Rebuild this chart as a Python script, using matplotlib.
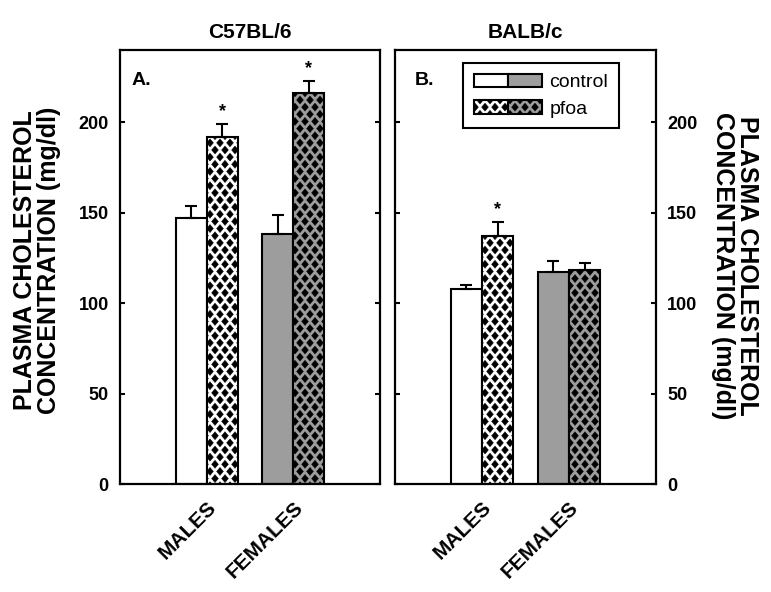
import numpy as np
import matplotlib
matplotlib.use("Agg")
import matplotlib.pyplot as plt
import matplotlib.hatch as mhatch
from matplotlib.path import Path
from matplotlib.patches import Rectangle
from matplotlib.legend_handler import HandlerTuple
from matplotlib import font_manager

# data
groups = ["MALES", "FEMALES"]
c57_control = [147, 138]
c57_control_sem = [7, 10.5]
c57_pfoa = [192, 216]
c57_pfoa_sem = [7, 7]
c57_sig = [True, True]

balb_control = [108, 117]
balb_control_sem = [2, 6.5]
balb_pfoa = [137, 118.5]
balb_pfoa_sem = [8, 3.5]
balb_sig = [True, False]

GRAY = "#9d9d9d"
plt.rcParams["font.family"] = ["Liberation Sans", "DejaVu Sans"]
plt.rcParams["hatch.linewidth"] = 0.3
plt.rcParams["hatch.color"] = "black"

names = {f.name for f in font_manager.fontManager.ttflist}
tick_font = "Liberation Sans Narrow" if "Liberation Sans Narrow" in names else "Liberation Sans"


# '*' in a hatch string -> staggered grid of filled black diamonds
class Diamonds(mhatch.HatchPatternBase):
    def __init__(self, hatch, density):
        n = hatch.count('*')
        self.cols = 10 * n
        self.rows = 14 * n
        if n == 0:
            self.num_vertices = 0
            return
        centers = []
        for r in range(self.rows + 1):
            y = r / self.rows
            if r % 2 == 0:
                xs = np.arange(self.cols + 1) / self.cols
            else:
                xs = (np.arange(self.cols) + 0.5) / self.cols
            centers += [(x, y) for x in xs]
        self.centers = np.array(centers)
        self.num_vertices = len(self.centers) * 5

    def set_vertices_and_codes(self, vertices, codes):
        hw = 0.34 / self.cols
        hh = 0.56 / self.rows
        shape = np.array([[0, hh], [hw, 0], [0, -hh], [-hw, 0], [0, hh]])
        vertices[:] = (self.centers[:, None, :] + shape[None]).reshape(-1, 2)
        c = np.full((len(self.centers), 5), Path.LINETO, dtype=Path.code_type)
        c[:, 0] = Path.MOVETO
        c[:, -1] = Path.CLOSEPOLY
        codes[:] = c.ravel()


mhatch._hatch_types[mhatch._hatch_types.index(mhatch.Stars)] = Diamonds

fig = plt.figure(figsize=(7.71, 5.92), dpi=100)
ax1 = fig.add_axes([0.1556, 0.1824, 0.3372, 0.7331])
ax2 = fig.add_axes([0.5123, 0.1824, 0.3385, 0.7331])

x = np.arange(len(groups))
w = 0.357
colors = ["white", GRAY]


def panel(ax, ctrl, ctrl_sem, pfoa, pfoa_sem, sig, title, letter, lx, right_labels):
    ax.bar(x - w / 2, ctrl, w, color=colors, edgecolor="black", linewidth=1.5, zorder=2)
    ax.bar(x + w / 2, pfoa, w, color=colors, edgecolor="black", linewidth=1.5,
           hatch="*", zorder=2)
    ax.errorbar(x - w / 2, ctrl, yerr=[np.zeros(len(x)), ctrl_sem], fmt="none",
                ecolor="black", elinewidth=1.5, capsize=4.5, capthick=1.5, zorder=3)
    ax.errorbar(x + w / 2, pfoa, yerr=[np.zeros(len(x)), pfoa_sem], fmt="none",
                ecolor="black", elinewidth=1.5, capsize=4.5, capthick=1.5, zorder=3)
    for xi, v, s, flag in zip(x + w / 2, pfoa, pfoa_sem, sig):
        if flag:
            ax.annotate("*", xy=(xi, v + s), xytext=(0, 3), textcoords="offset points",
                        ha="center", va="bottom", fontsize=13, fontweight="bold")
    ax.set_xlim(-1, 2)
    ax.set_ylim(0, 240)
    ax.set_yticks([0, 50, 100, 150, 200])
    ax.set_xticks(x)
    ax.set_xticklabels(groups, rotation=45, ha="right", rotation_mode="anchor",
                       fontsize=15, fontweight="bold")
    ax.tick_params(axis="x", length=0, pad=10)
    ax.tick_params(axis="y", direction="in", length=3.6, width=1.5,
                   left=True, right=True, labelsize=13, pad=8,
                   labelleft=not right_labels, labelright=right_labels)
    for tick in ax.yaxis.get_major_ticks():
        for t in (tick.label1, tick.label2):
            t.set_fontfamily(tick_font)
            t.set_fontweight("bold")
    for sp in ax.spines.values():
        sp.set_linewidth(1.6)
    ax.set_title(title, fontsize=15, fontweight="bold", pad=9)
    ax.text(lx, 0.919, letter, transform=ax.transAxes, fontsize=14,
            fontweight="bold", va="baseline")


panel(ax1, c57_control, c57_control_sem, c57_pfoa, c57_pfoa_sem, c57_sig,
      "C57BL/6", "A.", 0.046, False)
panel(ax2, balb_control, balb_control_sem, balb_pfoa, balb_pfoa_sem, balb_sig,
      "BALB/c", "B.", 0.077, True)

# legend: split patches (male | female)
h_ctrl = (Rectangle((0, 0), 1, 1, facecolor="white", edgecolor="black", lw=1.5),
          Rectangle((0, 0), 1, 1, facecolor=GRAY, edgecolor="black", lw=1.5))
h_pfoa = (Rectangle((0, 0), 1, 1, facecolor="white", edgecolor="black", lw=1.5, hatch="*"),
          Rectangle((0, 0), 1, 1, facecolor=GRAY, edgecolor="black", lw=1.5, hatch="*"))
leg = ax2.legend([h_ctrl, h_pfoa], ["control", "pfoa"],
                 handler_map={tuple: HandlerTuple(ndivide=None, pad=0)},
                 loc="upper left", bbox_to_anchor=(0.26, 0.97), borderaxespad=0,
                 fontsize=14, handlelength=3.5, handleheight=0.7, handletextpad=0.4,
                 labelspacing=0.45, borderpad=0.55, fancybox=False, framealpha=1,
                 edgecolor="black")
leg.get_frame().set_linewidth(1.5)

ylab = "PLASMA CHOLESTEROL\nCONCENTRATION (mg/dl)"
fig.text(0.048, 0.561, ylab, rotation=90, ha="center", va="center",
         multialignment="center", fontsize=18, fontweight="bold", linespacing=1.0)
fig.text(0.953, 0.551, ylab, rotation=270, ha="center", va="center",
         multialignment="center", fontsize=18, fontweight="bold", linespacing=1.0)

fig.savefig("out.png", dpi=100)
